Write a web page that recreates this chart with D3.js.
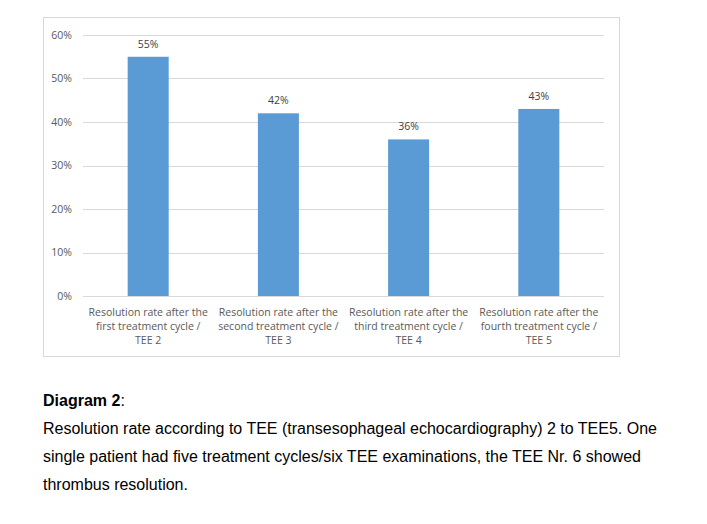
<!DOCTYPE html>
<html>
<head>
<meta charset="utf-8">
<script src="https://cdn.jsdelivr.net/npm/d3@7"></script>
<style>
  body { margin: 0; background: #fff; }
  .caption { font-family: "Liberation Sans", Arial, sans-serif; font-size: 16px; fill: #000; }
</style>
</head>
<body>
<script>
var categories = [
  ["Resolution rate after the", "first treatment cycle /", "TEE 2"],
  ["Resolution rate after the", "second treatment cycle /", "TEE 3"],
  ["Resolution rate after the", "third treatment cycle /", "TEE 4"],
  ["Resolution rate after the", "fourth treatment cycle /", "TEE 5"]
];
var values = [0.55, 0.42, 0.36, 0.43];
var ticks = [0, 0.1, 0.2, 0.3, 0.4, 0.5, 0.6];

var width = 707, height = 524;
var margin = {left: 83, right: 103, top: 35, bottom: 228};

var svg = d3.select("body").append("svg")
  .attr("width", width)
  .attr("height", height);

// chart frame
svg.append("rect")
  .attr("x", 43.5).attr("y", 17.5)
  .attr("width", 576).attr("height", 339)
  .attr("fill", "none")
  .attr("stroke", "#d9d9d9");

var x = d3.scaleBand()
  .domain(d3.range(categories.length))
  .range([margin.left, width - margin.right])
  .paddingInner(0.685)
  .paddingOuter(0.343);

var y = d3.scaleLinear()
  .domain([0, 0.6])
  .range([height - margin.bottom, margin.top]);

var font = "Segoe UI, 'Open Sans', 'DejaVu Sans', sans-serif";

svg.append("g").selectAll("line")
  .data(ticks)
  .enter().append("line")
  .attr("x1", margin.left).attr("x2", width - margin.right)
  .attr("y1", function(d) { return Math.round(y(d)) + 0.5; })
  .attr("y2", function(d) { return Math.round(y(d)) + 0.5; })
  .attr("stroke", "#d9d9d9");

svg.append("g").selectAll("text")
  .data(ticks)
  .enter().append("text")
  .attr("x", 72)
  .attr("y", function(d) { return y(d); })
  .attr("dy", "0.35em")
  .attr("text-anchor", "end")
  .attr("font-family", font)
  .attr("font-size", "10.5px")
  .attr("fill", "#595959")
  .text(d3.format(".0%"));

svg.append("g").selectAll("rect")
  .data(values)
  .enter().append("rect")
  .attr("x", function(d, i) { return x(i); })
  .attr("y", function(d) { return y(d); })
  .attr("width", x.bandwidth())
  .attr("height", function(d) { return y(0) - y(d); })
  .attr("fill", "#5b9bd5");

svg.append("g").selectAll("text")
  .data(values)
  .enter().append("text")
  .attr("x", function(d, i) { return x(i) + x.bandwidth() / 2; })
  .attr("y", function(d) { return y(d) - 9; })
  .attr("text-anchor", "middle")
  .attr("font-family", font)
  .attr("font-size", "10.5px")
  .attr("fill", "#404040")
  .text(d3.format(".0%"));

var labels = svg.append("g").selectAll("text")
  .data(categories)
  .enter().append("text")
  .attr("text-anchor", "middle")
  .attr("font-family", font)
  .attr("font-size", "10.5px")
  .attr("fill", "#595959");

labels.selectAll("tspan")
  .data(function(d, i) { return d.map(function(t) { return {t: t, i: i}; }); })
  .enter().append("tspan")
  .attr("x", function(d) { return x(d.i) + x.bandwidth() / 2; })
  .attr("y", function(d, j) { return 316 + j * 14; })
  .text(function(d) { return d.t; });

// caption below the chart
var caption = svg.append("g").attr("class", "caption");
var title = caption.append("text").attr("x", 43).attr("y", 406);
title.append("tspan").attr("font-weight", "bold").text("Diagram 2");
title.append("tspan").text(":");

var captionLines = [
  "Resolution rate according to TEE (transesophageal echocardiography) 2 to TEE5. One",
  "single patient had five treatment cycles/six TEE examinations, the TEE Nr. 6 showed",
  "thrombus resolution."
];
caption.selectAll("text.line")
  .data(captionLines)
  .enter().append("text")
  .attr("class", "line")
  .attr("x", 43)
  .attr("y", function(d, i) { return 434 + i * 28; })
  .text(function(d) { return d; });
</script>
</body>
</html>
